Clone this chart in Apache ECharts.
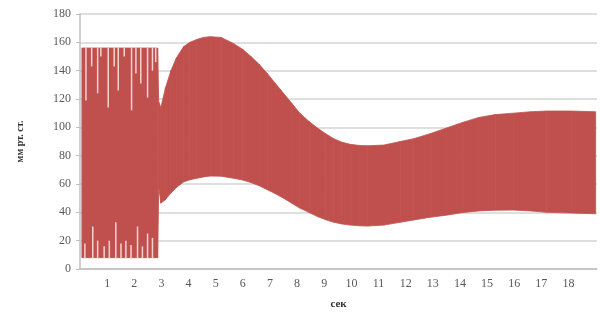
<!DOCTYPE html>
<html>
<head>
<meta charset="utf-8">
<script src="https://cdn.jsdelivr.net/npm/echarts@6/dist/echarts.min.js"></script>
<style>
  html, body { margin: 0; padding: 0; background: #fff; }
  #main { width: 600px; height: 317px; }
</style>
</head>
<body>
<div id="main"></div>
<script>
// огибающая колебаний давления (сек, мм рт. ст.)
const envX = [0.07, 2.86, 2.9, 2.98, 3.15, 3.35, 3.55, 3.82, 4.05, 4.3, 4.55, 4.8, 5.2, 5.67, 6.0, 6.3, 6.6, 6.9, 7.2, 7.5, 7.8, 8.1, 8.45, 8.75, 9.05, 9.35, 9.65, 9.96, 10.3, 10.6, 11.2, 11.8, 12.3, 12.9, 13.5, 14.1, 14.7, 15.3, 15.97, 16.6, 17.2, 18.1, 19.0];
const envUpper = [156, 156, 118, 114, 128, 140, 149, 157, 160, 162, 163.5, 164, 163.5, 159, 155, 150, 144.5, 138, 131, 124, 117, 110, 104, 99.5, 95.5, 92, 89.5, 88, 87.2, 87, 87.5, 90, 92, 95.5, 99.5, 103.5, 107, 109, 110, 111, 111.5, 111.5, 111];
const envLower = [8, 8, 58, 46.5, 49, 53.6, 57.5, 61.5, 63, 64, 65, 65.6, 65.5, 64, 62.8, 61, 58.8, 56, 53.2, 50, 46.5, 43, 39.8, 37, 34.8, 33, 31.8, 31, 30.5, 30.3, 31, 33, 34.6, 36.5, 38, 39.8, 41, 41.5, 41.6, 41, 40, 39.5, 39];

// светлые провалы в начале записи (сек, от, до)
const gapsTopX = [0.22, 0.43, 0.65, 0.77, 1.04, 1.26, 1.41, 1.63, 1.90, 2.06, 2.24, 2.49, 2.67, 2.79];
const gapsTopY = [119, 143, 124, 150, 114, 143, 126, 150, 112, 138, 131, 121, 140, 146];
const gapsBotX = [0.18, 0.47, 0.65, 0.89, 1.08, 1.32, 1.51, 1.69, 1.88, 2.12, 2.30, 2.49, 2.67];
const gapsBotY = [18, 30, 20, 16, 20, 33, 18, 20, 17, 30, 16, 25, 22];

const yTicks = [0, 20, 40, 60, 80, 100, 120, 140, 160, 180];
const xLabels = [1, 2, 3, 4, 5, 6, 7, 8, 9, 10, 11, 12, 13, 14, 15, 16, 17, 18];

const red = '#c0504d';
// отрезки полосы между соседними точками огибающей
const bandData = envX.slice(0, -1).map((x, i) =>
  [x, envLower[i], envUpper[i], envX[i + 1], envLower[i + 1], envUpper[i + 1]]);
const gapData = gapsTopX.map((x, i) => [x, 156.5, gapsTopY[i]])
  .concat(gapsBotX.map((x, i) => [x, 7.5, gapsBotY[i]]));

let myChart = echarts.init(document.getElementById('main'));
let option = {
  animation: false,
  grid: { left: 80, right: 3, top: 14, bottom: 48 },
  xAxis: {
    type: 'value',
    min: 0,
    max: 19.05,
    interval: 1,
    name: 'сек',
    nameLocation: 'middle',
    nameGap: 30,
    nameTextStyle: { fontFamily: 'Liberation Serif', fontWeight: 'bold', fontSize: 11, color: '#333' },
    axisLine: { show: true, lineStyle: { color: '#bfbfbf', width: 1.5 } },
    axisTick: { show: false },
    splitLine: { show: false },
    axisLabel: {
      fontFamily: 'Liberation Serif', fontSize: 12, color: '#595959', margin: 9,
      showMaxLabel: false,
      formatter: v => (xLabels.indexOf(v) >= 0 ? String(v) : '')
    }
  },
  yAxis: {
    type: 'value',
    min: 0,
    max: 180,
    interval: 20,
    name: 'мм рт. ст.',
    nameLocation: 'middle',
    nameGap: 55,
    nameTextStyle: { fontFamily: 'Liberation Serif', fontWeight: 'bold', fontSize: 10, color: '#333' },
    axisLine: { show: true, lineStyle: { color: '#bfbfbf', width: 1.5 } },
    axisTick: { show: true, length: 4, lineStyle: { color: '#bfbfbf' } },
    splitLine: { lineStyle: { color: '#d4d4d4', width: 1.5 } },
    axisLabel: {
      fontFamily: 'Liberation Serif', fontSize: 12, color: '#595959', margin: 9,
      formatter: v => (yTicks.indexOf(v) >= 0 ? String(v) : '')
    }
  },
  series: [
    {
      type: 'custom',
      data: bandData,
      encode: { x: [0, 3], y: [1, 2, 4, 5] },
      renderItem: (params, api) => {
        const a = api.coord([api.value(0), api.value(1)]);
        const b = api.coord([api.value(0), api.value(2)]);
        const c = api.coord([api.value(3), api.value(5)]);
        const d = api.coord([api.value(3), api.value(4)]);
        return {
          type: 'polygon',
          shape: { points: [a, b, c, d] },
          style: { fill: red, stroke: red, lineWidth: 0.8 }
        };
      },
      z: 3
    },
    {
      type: 'custom',
      data: gapData,
      encode: { x: 0, y: [1, 2] },
      renderItem: (params, api) => {
        const p1 = api.coord([api.value(0), api.value(1)]);
        const p2 = api.coord([api.value(0), api.value(2)]);
        return {
          type: 'line',
          shape: { x1: p1[0], y1: p1[1], x2: p2[0], y2: p2[1] },
          style: { stroke: '#f3d3d1', lineWidth: 1.5 }
        };
      },
      z: 5
    }
  ]
};
option && myChart.setOption(option);
</script>
</body>
</html>
